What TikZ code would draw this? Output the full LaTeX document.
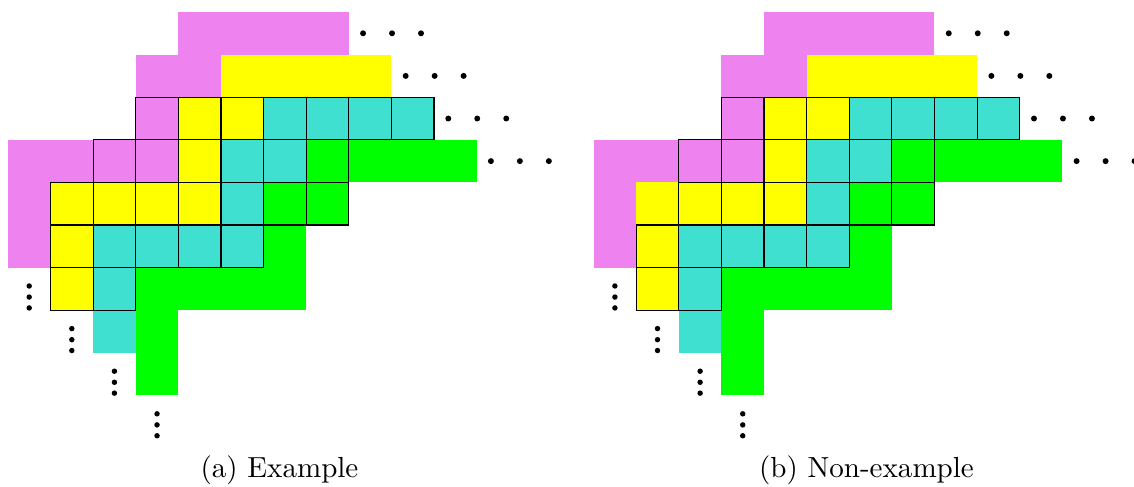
\documentclass[tikz,border=0pt]{standalone}
\usepackage{tikz}
\definecolor{cpink}{HTML}{EE82EE}
\definecolor{cyel}{HTML}{FFFF00}
\definecolor{cteal}{HTML}{40E0D0}
\definecolor{cgreen}{HTML}{00FF00}
\tikzset{
  cellline/.style={draw=black, line width=0.4pt},
  hdot/.style={fill=black},
  caption/.style={anchor=base, inner sep=0pt, font=\fontsize{9.7}{12}\selectfont},
}
% \cellf{color}{col}{row}: unbordered cell ; \cellb: bordered cell
\newcommand\cellf[3]{\fill[#1] (#2,#3) rectangle ++(1,1);}
\newcommand\cellb[3]{\filldraw[fill=#1, cellline] (#2,#3) rectangle ++(1,1);}
\newcommand\hdots[2]{% end column, row
  \foreach \o in {0.335,1.015,1.695} {\fill[hdot] (#1+\o,#2+0.5) circle (0.07);}}
\newcommand\vdotsc[2]{% column, end row
  \foreach \o in {0.43,0.69,0.945} {\fill[hdot] (#1+0.5,#2+\o) circle (0.064);}}
\newcommand\drawpanel[1]{%
  % unbordered fills
  \foreach \i in {4,...,7} {\cellf{cpink}{\i}{0}}
  \foreach \i in {3,4} {\cellf{cpink}{\i}{1}}
  \foreach \i in {5,...,8} {\cellf{cyel}{\i}{1}}
  \cellf{cpink}{1}{3}
  \foreach \j in {3,4,5} {\cellf{cpink}{0}{\j}}
  \foreach \i in {8,9,10} {\cellf{cgreen}{\i}{3}}
  \cellf{cgreen}{6}{5}
  \foreach \i in {3,...,6} {\cellf{cgreen}{\i}{6}}
  \cellf{cteal}{2}{7}
  \cellf{cgreen}{3}{7}
  \cellf{cgreen}{3}{8}
  % bordered cells
  \cellb{cpink}{3}{2}
  \cellb{cyel}{4}{2}
  \cellb{cyel}{5}{2}
  \foreach \i in {6,...,9} {\cellb{cteal}{\i}{2}}
  \cellb{cpink}{2}{3}
  \cellb{cpink}{3}{3}
  \cellb{cyel}{4}{3}
  \cellb{cteal}{5}{3}
  \cellb{cteal}{6}{3}
  \cellb{cgreen}{7}{3}
  #1
  \foreach \i in {2,3,4} {\cellb{cyel}{\i}{4}}
  \cellb{cteal}{5}{4}
  \cellb{cgreen}{6}{4}
  \cellb{cgreen}{7}{4}
  \cellb{cyel}{1}{5}
  \foreach \i in {2,...,5} {\cellb{cteal}{\i}{5}}
  \cellb{cyel}{1}{6}
  \cellb{cteal}{2}{6}
  % dots
  \hdots{8}{0}
  \hdots{9}{1}
  \hdots{10}{2}
  \hdots{11}{3}
  \vdotsc{0}{6}
  \vdotsc{1}{7}
  \vdotsc{2}{8}
  \vdotsc{3}{9}
}
\begin{document}
\begin{tikzpicture}[x=0.011737cm, y=-0.011737cm]
  \useasboundingbox (0,0) rectangle (1134,487);
  \begin{scope}[shift={(7.9,12)}, x=0.5cm, y=-0.5cm]
    \drawpanel{\cellb{cyel}{1}{4}}
  \end{scope}
  \begin{scope}[shift={(593.6,12)}, x=0.5cm, y=-0.5cm]
    \drawpanel{\cellf{cyel}{1}{4}}
  \end{scope}
  \node[caption] (capa) at (279.5,478) {(a) Example};
  \node[caption] (capb) at (866.5,478) {(b) Non-example};
\end{tikzpicture}
\end{document}
